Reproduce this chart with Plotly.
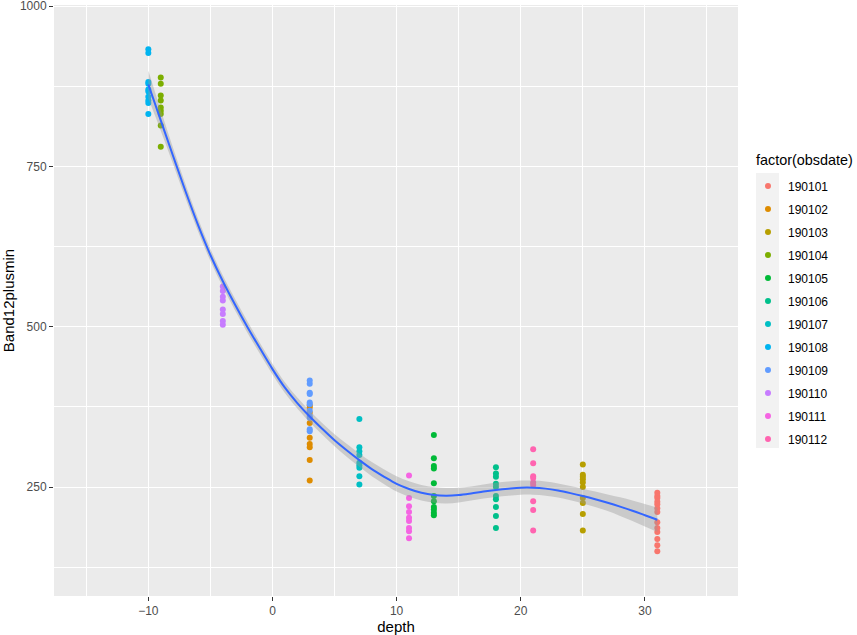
import plotly.graph_objects as go

# ---------------- data ----------------
obsdates = ["190101", "190102", "190103", "190104", "190105", "190106",
            "190107", "190108", "190109", "190110", "190111", "190112"]
colors = ["#F8766D", "#DE8C00", "#B79F00", "#7CAE00", "#00BA38", "#00C08B",
          "#00BFC4", "#00B4F0", "#619CFF", "#C77CFF", "#F564E3", "#FF64B0"]

depth_by_date = {
    "190101": 31, "190102": 3, "190103": 25, "190104": -9, "190105": 13,
    "190106": 18, "190107": 7, "190108": -10, "190109": 3, "190110": -4,
    "190111": 11, "190112": 21,
}
values_by_date = {
    "190101": [241, 236, 233, 227, 223, 217, 211, 195, 186, 180, 169, 159, 150],
    "190102": [377, 374, 366, 350, 327, 317, 312, 292, 260],
    "190103": [285, 269, 266, 262, 257, 250, 233, 225, 208, 182],
    "190104": [889, 879, 861, 853, 842, 837, 832, 814, 781],
    "190105": [331, 295, 283, 279, 256, 236, 228, 219, 215, 210, 206],
    "190106": [281, 271, 266, 255, 250, 236, 231, 219, 205, 186],
    "190107": [356, 312, 306, 300, 288, 284, 280, 267, 254],
    "190108": [933, 927, 882, 879, 870, 867, 859, 853, 849, 832],
    "190109": [416, 411, 397, 395, 382, 379, 369, 361, 358, 340, 337],
    "190110": [563, 556, 547, 541, 527, 520, 509, 503],
    "190111": [268, 233, 220, 211, 202, 197, 186, 181, 170],
    "190112": [309, 287, 267, 264, 257, 253, 228, 214, 182],
}

# loess smooth (fit and half-width of the band)
smooth_depth = [-10, -9, -8, -7, -6, -5, -4, -3, -2, -1, 0, 1, 2, 3, 4, 5, 6, 7,
                8, 9, 10, 11, 12, 13, 14, 15, 16, 17, 18, 19, 20, 21, 22, 23,
                24, 25, 26, 27, 28, 29, 30, 31]
smooth_fit = [878, 822, 766, 711, 659, 612, 571, 534, 499, 466, 434, 405, 381,
              360, 341, 323, 307, 292, 278, 266, 255, 247, 241, 237.5, 236.5,
              237.5, 240, 243, 245.5, 247.5, 249, 249, 247.5, 244.5, 240.5,
              236, 231, 225.5, 219.5, 213, 206, 199]
smooth_se = [22, 16, 12.5, 11, 10, 9.5, 9, 9, 9, 8.5, 8.5, 8.5, 8.5, 9, 9, 9.5,
             10, 10.5, 11, 11.5, 12, 12, 12, 12, 12, 11.5, 11, 11, 11, 11, 11,
             11, 11, 11, 11, 11.5, 12, 13, 14.5, 16, 17.5, 19]

# ---------------- figure ----------------
FONT = "Liberation Sans, Arial, sans-serif"
fig = go.Figure()

for d, c in zip(obsdates, colors):
    vals = values_by_date[d]
    fig.add_trace(go.Scatter(
        x=[depth_by_date[d]] * len(vals), y=vals, mode="markers",
        marker=dict(color=c, size=6), name=d, legendgroup=d,
        hoverinfo="x+y+name",
    ))

upper = [f + s for f, s in zip(smooth_fit, smooth_se)]
lower = [f - s for f, s in zip(smooth_fit, smooth_se)]
fig.add_trace(go.Scatter(x=smooth_depth, y=lower, mode="lines",
                         line=dict(width=0, shape="spline"), showlegend=False,
                         hoverinfo="skip"))
fig.add_trace(go.Scatter(x=smooth_depth, y=upper, mode="lines",
                         line=dict(width=0, shape="spline"), fill="tonexty",
                         fillcolor="rgba(153,153,153,0.4)", showlegend=False,
                         hoverinfo="skip"))
fig.add_trace(go.Scatter(x=smooth_depth, y=smooth_fit, mode="lines",
                         line=dict(color="#3366FF", width=2, shape="spline"),
                         showlegend=False, hoverinfo="skip"))

axis_common = dict(
    showgrid=True, gridcolor="white", gridwidth=1.1, zeroline=False,
    showline=False, ticks="outside", ticklen=4, tickwidth=1.1,
    tickcolor="#333333", tickfont=dict(family=FONT, size=12, color="#4D4D4D"),
    ticklabeloverflow="allow", automargin=False,
)

fig.update_layout(
    width=857, height=635,
    margin=dict(l=54, r=119, t=5, b=39, autoexpand=False),
    paper_bgcolor="white", plot_bgcolor="#EBEBEB",
    font=dict(family=FONT, color="black"),
    xaxis=dict(range=[-17.6, 37.5], tick0=0, dtick=10,
               minor=dict(tick0=5, dtick=10, showgrid=True, gridcolor="white",
                          gridwidth=0.55, ticks=""),
               title=dict(text="depth", font=dict(family=FONT, size=15),
                          standoff=5),
               **axis_common),
    yaxis=dict(range=[80, 1002], tick0=0, dtick=250,
               minor=dict(tick0=125, dtick=250, showgrid=True,
                          gridcolor="white", gridwidth=0.55, ticks=""),
               title=dict(text="Band12plusmin", font=dict(family=FONT, size=15),
                          standoff=6),
               **axis_common),
    legend=dict(
        x=1.0146, xanchor="left", y=0.7184, yanchor="top",
        font=dict(family=FONT, size=12, color="black"),
        traceorder="grouped", tracegroupgap=4, bgcolor="rgba(0,0,0,0)",
    ),
    annotations=[dict(text="factor(obsdate)", xref="paper", yref="paper",
                      x=(754 - 54) / 684, y=(596 - 160) / 591, xanchor="left",
                      yanchor="middle", showarrow=False,
                      font=dict(family=FONT, size=14.4, color="black"))],
    shapes=[dict(type="rect", xref="paper", yref="paper",
                 x0=1.0263, x1=1.0600, y0=0.2504, y1=0.7157,
                 fillcolor="#F2F2F2", line=dict(width=0), layer="below")],
)

fig.write_html("out.html")
